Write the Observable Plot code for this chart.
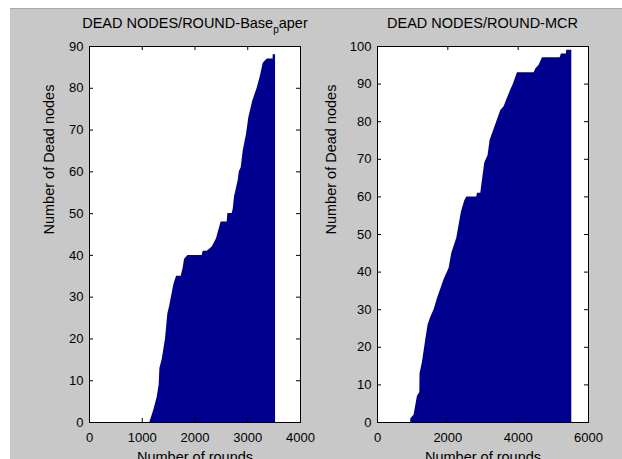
<!DOCTYPE html>
<html><head><meta charset="utf-8">
<script src="https://cdn.jsdelivr.net/npm/d3@7"></script>
<script src="https://cdn.jsdelivr.net/npm/@observablehq/plot@0.6"></script>
<style>
html,body{margin:0;padding:0;background:#fff;overflow:hidden}
#fig{position:relative;width:622px;height:459px;overflow:hidden;background:#fff;font-family:"Liberation Sans",Arial,sans-serif}
#panel{position:absolute;left:10px;top:8px;right:0;bottom:0;background:#c8c8c8;border-top:1px solid #a9a9a9}
#fig svg{position:absolute;left:0;top:0}
.title{position:absolute;top:16px;transform:translateX(-50%);font-size:14.5px;line-height:14.5px;white-space:nowrap;color:#000}
.title sub{font-size:10px;vertical-align:-5px;line-height:0}
</style></head>
<body><div id="fig"><div id="panel"></div></div>
<script>
// Base paper: rounds vs number of dead nodes
const baseRounds = [1144,1220,1283,1321,1335,1378,1441,1485,1523,1599,1650,1738,1776,1801,1865,2136,2155,2231,2326,2408,2452,2496,2610,2623,2705,2724,2749,2820,2840,2876,2914,2977,3021,3097,3179,3242,3293,3369,3480,3482,3527];
const baseDead   = [0,3,6,9,13,15,20,26,28,33,35,35,37,39,40,40,41,41,42,44,46,48,48,50,50,51,54,58,60,61,65,69,73,77,80,83,86,87,87,88,88];
// MCR: rounds vs number of dead nodes
const mcrRounds = [940,950,1041,1136,1203,1210,1279,1373,1440,1515,1610,1705,1781,1895,2037,2113,2254,2330,2387,2482,2539,2823,2842,2937,2965,3050,3145,3202,3316,3392,3506,3600,3771,3866,3980,4454,4501,4596,4691,5194,5231,5370,5383,5525];
const mcrDead   = [0,1,2,7,8,13,16,22,26,28,30,33,35,38,41,45,49,53,56,59,60,60,61,61,63,69,71,75,78,80,83,84,88,90,93,93,94,95,97,97,98,98,99,99];

const baseXTicks = [0,1000,2000,3000,4000];
const baseYTicks = [0,10,20,30,40,50,60,70,80,90];
const mcrXTicks  = [0,2000,4000,6000];
const mcrYTicks  = [0,10,20,30,40,50,60,70,80,90,100];

const xLabel = "Number of rounds";
const yLabel = "Number of Dead nodes";
const baseTitle = ["DEAD NODES/ROUND-Base", "p", "aper"];
const mcrTitle = "DEAD NODES/ROUND-MCR";

const FONT = '"Liberation Sans", Arial, sans-serif';
const W = 622, H = 459, TOP = 46, BOTTOM = 422;

function panel({rounds, dead, xDomain, yDomain, xTicks, yTicks, left, right, ylabelOffset}) {
  const data = rounds.map((r, i) => ({round: r, dead: dead[i]}));
  const pw = right - left, ph = BOTTOM - TOP;
  return Plot.plot({
    width: W, height: H,
    marginLeft: left, marginRight: W - right, marginTop: TOP, marginBottom: H - BOTTOM,
    style: {background: "transparent", fontFamily: FONT, fontSize: "13px", color: "#000"},
    x: {domain: xDomain},
    y: {domain: yDomain},
    marks: [
      Plot.frame({fill: "#fff"}),
      Plot.areaY(data, {x: "round", y: "dead", fill: "#00008f", curve: "linear"}),
      Plot.tickX(xTicks, {x: d => d, stroke: "#000", insetTop: ph - 4}),
      Plot.tickX(xTicks, {x: d => d, stroke: "#000", insetBottom: ph - 4}),
      Plot.tickY(yTicks, {y: d => d, stroke: "#000", insetRight: pw - 4}),
      Plot.tickY(yTicks, {y: d => d, stroke: "#000", insetLeft: pw - 4}),
      Plot.frame({stroke: "#000"}),
      Plot.axisX({ticks: xTicks, tickSize: 0, tickPadding: 10, label: null, tickFormat: d => String(d)}),
      Plot.axisY({ticks: yTicks, tickSize: 0, tickPadding: 6, label: null, tickFormat: d => String(d)}),
      Plot.text([xLabel], {text: d => d, frameAnchor: "bottom", dy: 39, fontSize: 14.5}),
      Plot.text([yLabel], {text: d => d, frameAnchor: "left", dx: -ylabelOffset, rotate: -90, fontSize: 14.5})
    ]
  });
}

const fig = document.getElementById("fig");
fig.appendChild(panel({rounds: baseRounds, dead: baseDead, xDomain: [0, 4000], yDomain: [0, 90],
  xTicks: baseXTicks, yTicks: baseYTicks, left: 89, right: 300, ylabelOffset: 40}));
fig.appendChild(panel({rounds: mcrRounds, dead: mcrDead, xDomain: [0, 6000], yDomain: [0, 100],
  xTicks: mcrXTicks, yTicks: mcrYTicks, left: 377, right: 588, ylabelOffset: 46}));

const t1 = document.createElement("div");
t1.className = "title"; t1.style.left = "195px";
t1.append(baseTitle[0]);
const sub = document.createElement("sub"); sub.textContent = baseTitle[1];
t1.append(sub, baseTitle[2]);
fig.appendChild(t1);
const t2 = document.createElement("div");
t2.className = "title"; t2.style.left = "482.5px";
t2.textContent = mcrTitle;
fig.appendChild(t2);
</script>
</body></html>
